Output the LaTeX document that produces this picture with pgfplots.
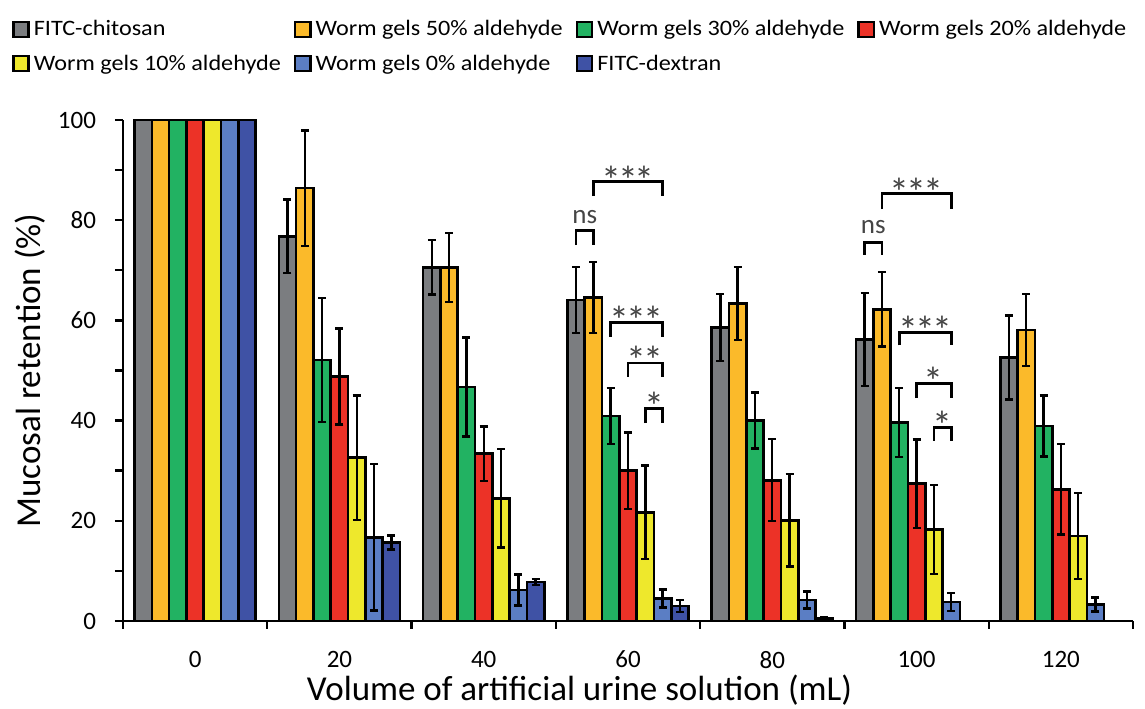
\documentclass[border=0pt]{standalone}
\usepackage{fontspec}
\setmainfont{Carlito}
\newfontfamily\wide{Carlito}[FakeStretch=1.1]
\usepackage{pgfplots}
\usepackage{pgfplotstable}
\pgfplotsset{compat=1.18}

\definecolor{cgray}{HTML}{7B7D80}
\definecolor{corange}{HTML}{FBBA2A}
\definecolor{cgreen}{HTML}{22B262}
\definecolor{cred}{HTML}{EC3227}
\definecolor{cyellow}{HTML}{EEE82C}
\definecolor{cblue}{HTML}{5B7EC4}
\definecolor{cdex}{HTML}{3F52A5}
\definecolor{anno}{HTML}{454545}

% mean and SD per group (0..120 mL)
\pgfplotstableread{
x chi  chie w50  w50e w30  w30e w20  w20e w10  w10e w0   w0e  dex  dexe
0 100  0    100  0    100  0    100  0    100  0    100  0    100  0
1 76.8 7.3  86.4 11.5 52.1 12.4 48.8 9.6  32.6 12.4 16.7 14.6 15.7 1.4
2 70.6 5.4  70.6 6.9  46.7 9.9  33.4 5.4  24.5 9.8  6.2  3.1  7.8  0.6
3 64.1 6.6  64.6 7.1  40.9 5.6  30.0 7.6  21.7 9.3  4.5  1.8  3.0  1.2
4 58.6 6.7  63.4 7.3  40.0 5.6  28.1 8.2  20.1 9.2  4.2  1.7  0.5  0.3
5 56.2 9.3  62.2 7.4  39.6 6.9  27.4 8.8  18.3 8.9  3.8  1.8  nan  nan
6 52.6 8.4  58.1 7.2  38.9 6.1  26.3 9.0  17.0 8.6  3.3  1.4  nan  nan
}\data

% bracket: x1, x2, top, leg end
\newcommand{\brk}[4]{\draw[line width=1.3pt] (axis cs:#1,#4) -- (axis cs:#1,#3) -- (axis cs:#2,#3) -- (axis cs:#2,#4);}
\newcommand{\starA}{*}
\newcommand{\starB}{*\kern-1.5pt*}
\newcommand{\starC}{*\kern-1.5pt*\kern-1.5pt*}

\begin{document}
\begin{tikzpicture}[
    ns/.style={anchor=base, text=anno, font=\fontsize{13.5}{16}\selectfont},
    st/.style={anchor=base, text=anno, font=\fontsize{20}{22}\selectfont}]
\begin{axis}[
    name=ax,
    width=505pt, height=250.5pt, scale only axis,
    xmin=-0.5, xmax=6.5, ymin=0, ymax=100,
    axis lines=left,
    axis line style={-, line width=1.2pt},
    ybar=0pt, bar width=0.12,
    xtick={-0.5,0.5,...,6.5},
    xticklabels={0,20,40,60,80,100,120},
    x tick label as interval,
    ytick={0,20,...,100},
    minor ytick={10,30,...,90},
    tick align=outside,
    major tick length=4pt, minor tick length=4pt,
    every tick/.style={black, line width=1.2pt},
    /pgf/number format/assume math mode=true,
    ticklabel style={font=\fontsize{12.5}{15}\selectfont},
    xticklabel style={yshift=-7.5pt},
    yticklabel style={xshift=-6pt},
    xlabel={Volume of artificial urine solution (mL)},
    ylabel={Mucosal retention (\%)},
    label style={font=\fontsize{17.5}{20}\selectfont},
    xlabel style={at={(axis description cs:0.452,-0.138)}, anchor=center},
    ylabel style={at={(axis description cs:-0.092,0.5)}, anchor=center},
    every axis plot/.append style={draw=black, line width=1.3pt},
    error bars/y dir=both, error bars/y explicit,
    error bars/error bar style={line width=1.2pt, black},
    error bars/error mark options={rotate=90, mark size=2pt, line width=1.2pt, black},
    legend columns=4,
    legend cell align=left,
    legend style={at={(-0.116,1.215)}, anchor=north west, draw=none, fill=none,
        font=\wide\fontsize{11}{13}\selectfont, row sep=4pt,
        /tikz/every even column/.append style={column sep=4.5pt}},
    legend image code/.code={\draw[#1, line width=1.2pt] (0pt,-3.6pt) rectangle (7.6pt,4pt);},
]
\addplot[fill=cgray]   table[x=x, y=chi, y error=chie] {\data};
\addplot[fill=corange] table[x=x, y=w50, y error=w50e] {\data};
\addplot[fill=cgreen]  table[x=x, y=w30, y error=w30e] {\data};
\addplot[fill=cred]    table[x=x, y=w20, y error=w20e] {\data};
\addplot[fill=cyellow] table[x=x, y=w10, y error=w10e] {\data};
\addplot[fill=cblue]   table[x=x, y=w0,  y error=w0e]  {\data};
\addplot[fill=cdex]    table[x=x, y=dex, y error=dexe] {\data};
\legend{FITC-chitosan, Worm gels 50\% aldehyde, Worm gels 30\% aldehyde, Worm gels 20\% aldehyde,
        Worm gels 10\% aldehyde, Worm gels 0\% aldehyde, FITC-dextran}

% 60 mL
\brk{2.64}{2.76}{77.9}{75.0}
\brk{2.76}{3.24}{87.7}{84.8}
\brk{2.88}{3.24}{59.6}{56.7}
\brk{3.00}{3.24}{51.5}{48.8}
\brk{3.12}{3.24}{42.4}{39.5}
\node[ns] at (axis cs:2.70,79.4) {ns};
\node[st] at (axis cs:3.00,85.2) {\starC};
\node[st] at (axis cs:3.06,57.2) {\starC};
\node[st] at (axis cs:3.12,49.1) {\starB};
\node[st] at (axis cs:3.18,40.0) {\starA};
% 100 mL
\brk{4.64}{4.76}{75.5}{73.1}
\brk{4.76}{5.24}{85.3}{82.2}
\brk{4.88}{5.24}{57.6}{55.0}
\brk{5.00}{5.24}{47.4}{44.5}
\brk{5.12}{5.24}{38.6}{36.0}
\node[ns] at (axis cs:4.70,77.3) {ns};
\node[st] at (axis cs:5.00,82.8) {\starC};
\node[st] at (axis cs:5.06,55.2) {\starC};
\node[st] at (axis cs:5.12,45.0) {\starA};
\node[st] at (axis cs:5.18,36.2) {\starA};
\end{axis}
\pgfresetboundingbox
\path[use as bounding box] ([xshift=-61.5pt, yshift=-44pt]ax.south west) rectangle ([xshift=6pt, yshift=60pt]ax.north east);
\end{tikzpicture}
\end{document}
